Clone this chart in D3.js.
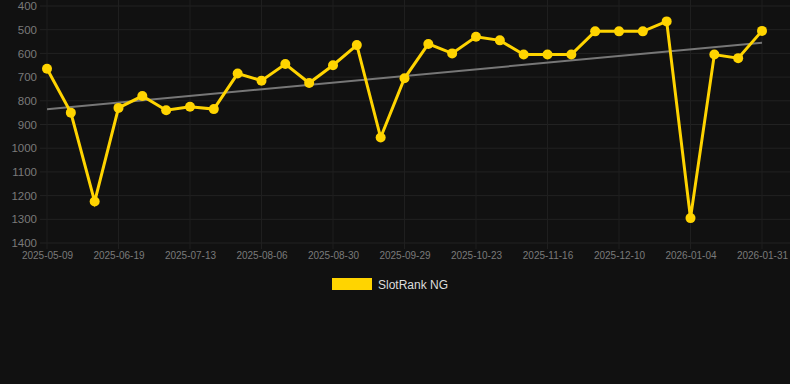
<!DOCTYPE html>
<html lang="en">
<meta charset="utf-8" />
<style>
    body {
        margin: 0;
        background: #111111;
    }

    .tick text {
        font-family: "Liberation Sans", Arial, sans-serif;
        fill: #7a7a7a;
    }
</style>
<body>
<svg width="790" height="384"></svg>
<script src="https://d3js.org/d3.v7.min.js"></script>
<script>
    // dates on the x axis (only every third one is labelled)
    var dates = [
        "2025-05-09", "2025-05-23", "2025-06-06", "2025-06-19", "2025-06-27", "2025-07-05",
        "2025-07-13", "2025-07-21", "2025-07-29", "2025-08-06", "2025-08-14", "2025-08-22",
        "2025-08-30", "2025-09-09", "2025-09-19", "2025-09-29", "2025-10-07", "2025-10-15",
        "2025-10-23", "2025-10-31", "2025-11-08", "2025-11-16", "2025-11-24", "2025-12-02",
        "2025-12-10", "2025-12-18", "2025-12-26", "2026-01-04", "2026-01-13", "2026-01-22",
        "2026-01-31"
    ]
    // rank values
    var ranks = [
        665, 850, 1225, 830, 780, 840, 825, 835, 685, 715, 645,
        725, 650, 565, 955, 705, 560, 600, 530, 545, 605, 605,
        605, 507, 507, 507, 465, 1295, 605, 620, 505
    ]
    var yTicks = [400, 500, 600, 700, 800, 900, 1000, 1100, 1200, 1300, 1400]
    var seriesName = "SlotRank NG"

    var svg = d3.select("svg")

    var x = d3.scalePoint()
        .domain(dates)
        .range([47, 762])

    var y = d3.scaleLinear()
        .domain([400, 1400])
        .range([6, 243])

    // horizontal grid
    svg.append("g")
        .selectAll("line")
        .data(yTicks)
        .enter()
        .append("line")
        .attr("x1", 40)
        .attr("x2", 790)
        .attr("y1", d => y(d))
        .attr("y2", d => y(d))
        .attr("stroke", "#222")
        .attr("stroke-width", 1)

    // vertical grid
    var shown = dates.filter((d, i) => i % 3 == 0)
    svg.append("g")
        .selectAll("line")
        .data(shown)
        .enter()
        .append("line")
        .attr("x1", d => x(d))
        .attr("x2", d => x(d))
        .attr("y1", 0)
        .attr("y2", 249)
        .attr("stroke", "#1f1f1f")
        .attr("stroke-width", 1)

    var yAxis = d3.axisLeft(y)
        .tickValues(yTicks)
        .tickFormat(d3.format("d"))
        .tickSize(0)
        .tickPadding(0)
    svg.append("g")
        .attr("transform", "translate(37,0)")
        .call(yAxis)
        .call(g => g.select(".domain").remove())
        .selectAll("text")
        .style("font-size", "11.5px")

    var xAxis = d3.axisBottom(x)
        .tickValues(shown)
        .tickSize(0)
        .tickPadding(0)
    svg.append("g")
        .attr("transform", "translate(0,252)")
        .call(xAxis)
        .call(g => g.select(".domain").remove())
        .selectAll("text")
        .style("font-size", "10px")

    // trend line (least squares on index)
    var n = ranks.length
    var mx = d3.mean(ranks, (d, i) => i)
    var my = d3.mean(ranks)
    var sxy = d3.sum(ranks, (d, i) => (i - mx) * (d - my))
    var sxx = d3.sum(ranks, (d, i) => (i - mx) * (i - mx))
    var slope = sxy / sxx
    var icpt = my - slope * mx
    svg.append("line")
        .attr("x1", x(dates[0]))
        .attr("x2", x(dates[n - 1]))
        .attr("y1", y(icpt))
        .attr("y2", y(icpt + slope * (n - 1)))
        .attr("stroke", "#777")
        .attr("stroke-width", 2)

    var line = d3.line()
        .x((d, i) => x(dates[i]))
        .y(d => y(d))

    svg.append("path")
        .datum(ranks)
        .attr("d", line)
        .attr("fill", "none")
        .attr("stroke", "#FFD400")
        .attr("stroke-width", 3)

    svg.selectAll("circle")
        .data(ranks)
        .enter()
        .append("circle")
        .attr("cx", (d, i) => x(dates[i]))
        .attr("cy", d => y(d))
        .attr("r", 5)
        .attr("fill", "#FFD400")

    // legend
    svg.append("rect")
        .attr("x", 332)
        .attr("y", 278)
        .attr("width", 40)
        .attr("height", 12)
        .attr("fill", "#FFD400")
    svg.append("text")
        .text(seriesName)
        .attr("x", 378)
        .attr("y", 288.5)
        .attr("fill", "#dddddd")
        .style("font-family", "Liberation Sans, Arial, sans-serif")
        .style("font-size", "12px")
</script>
</body>
</html>
